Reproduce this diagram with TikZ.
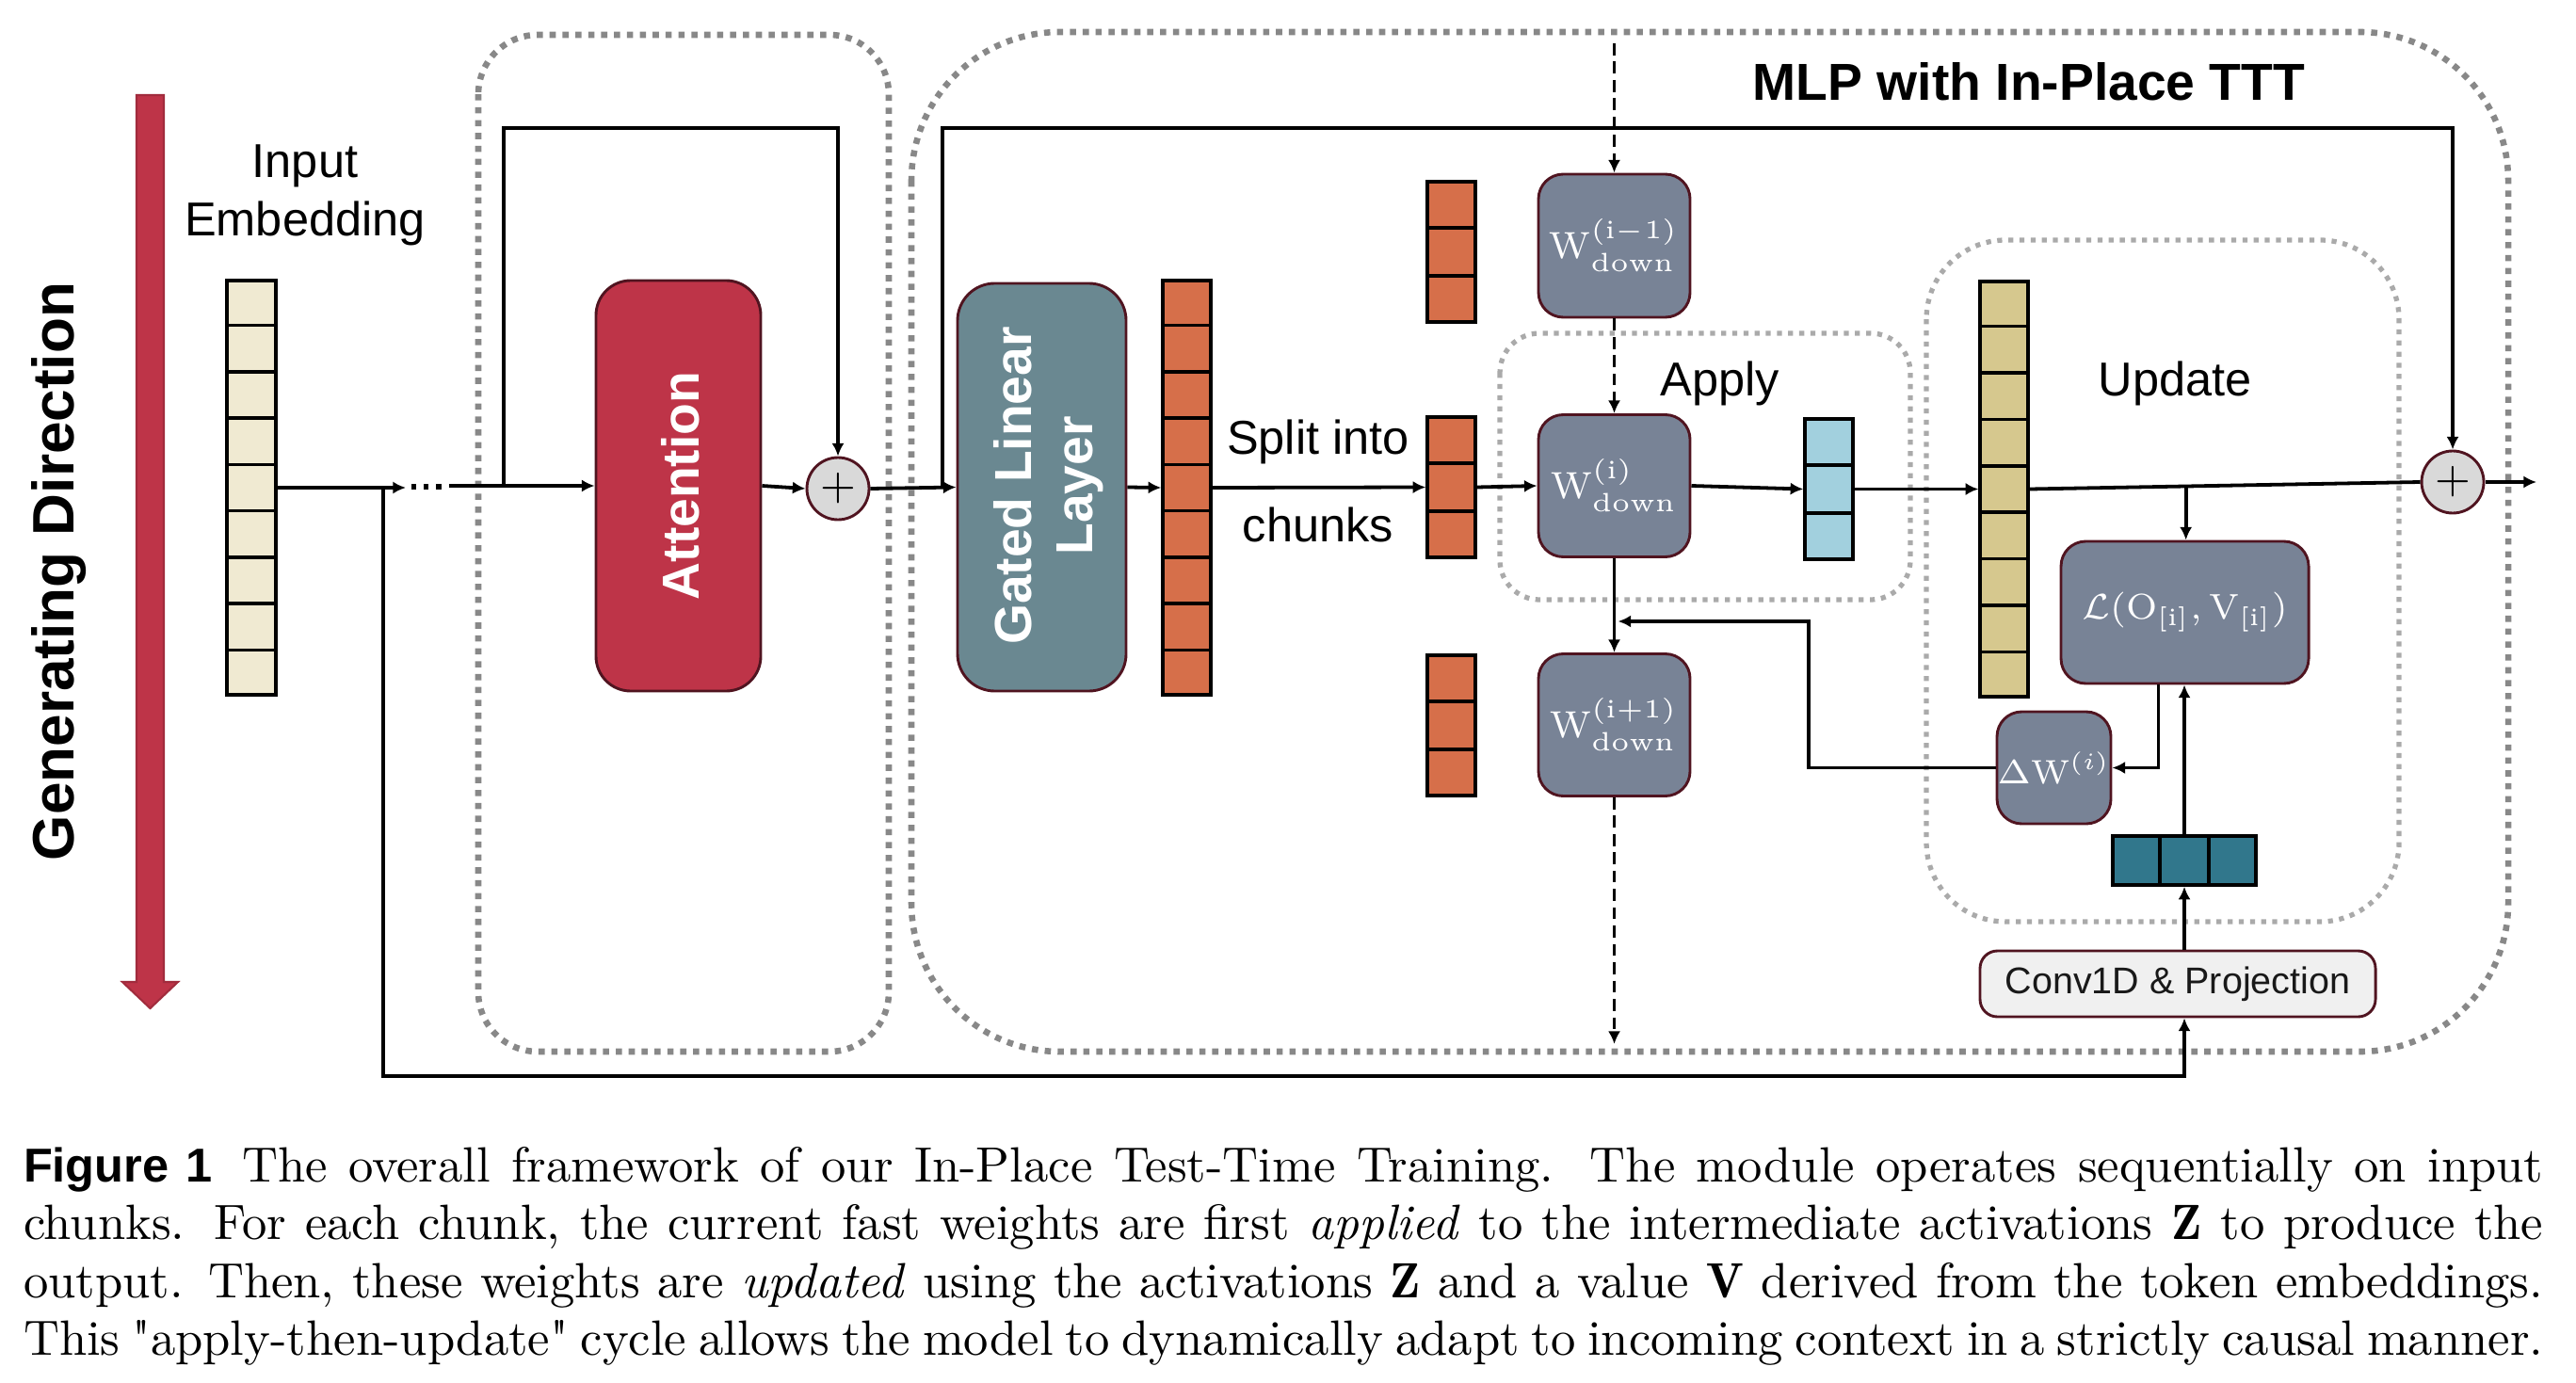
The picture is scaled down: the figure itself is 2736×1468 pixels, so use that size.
\documentclass[tikz,border=0pt]{standalone}
\usepackage{fix-cm}
\usepackage{fontspec}
\newfontfamily\arialf{Liberation Sans}
\usetikzlibrary{arrows.meta,calc}
\definecolor{attred}{RGB}{190,52,72}
\definecolor{gatedc}{RGB}{106,136,145}
\definecolor{wboxc}{RGB}{120,131,150}
\definecolor{maroonc}{RGB}{80,20,32}
\definecolor{creamc}{RGB}{240,234,210}
\definecolor{orangec}{RGB}{214,111,74}
\definecolor{bluec}{RGB}{162,208,222}
\definecolor{tanc}{RGB}{214,200,142}
\definecolor{tealc}{RGB}{49,119,140}
\definecolor{plusc}{RGB}{217,217,217}
\definecolor{convc}{RGB}{240,240,240}
\definecolor{dotdark}{RGB}{136,136,136}
\definecolor{dotlight}{RGB}{170,170,170}
\tikzset{
  wh/.style 2 args={minimum width=#1*0.19pt, minimum height=#2*0.19pt},
  col/.style={draw=black, line width=0.65pt, inner sep=0pt},
  cellline/.style={line width=0.65pt, draw=black},
  rbox/.style={draw=maroonc, line width=0.55pt, rounded corners=5pt, inner sep=0pt, text=white, font=\fontsize{7.6}{9}\selectfont},
  plusn/.style={circle, draw=maroonc, fill=plusc, line width=0.55pt, minimum size=66*0.19pt, inner sep=0pt, font=\fontsize{9}{9}\selectfont},
  lbl/.style={font=\arialf\fontsize{9.6}{11.5}\selectfont, inner sep=0pt},
  blbl/.style={font=\arialf\bfseries\fontsize{10.5}{12}\selectfont, inner sep=0pt},
  wlbl/.style={blbl, text=white, rotate=90, anchor=base},
  conn/.style={line width=0.72pt, -{Latex[length=2.6pt,width=2.5pt]}},
  plain/.style={line width=0.72pt},
  dconn/.style={conn, dash pattern=on 2.4pt off 1.3pt},
  outerdot/.style={draw=dotdark, line width=1.25pt, dash pattern=on 1.25pt off 1.35pt},
  innerdot/.style={draw=dotlight, line width=1pt, dash pattern=on 1pt off 1.25pt},
}
\newcommand\hcells[2]{\pgfmathtruncatemacro\nm{#2-1}%
  \foreach \k in {1,...,\nm}{\draw[cellline] ($(#1.north west)!\k/#2!(#1.south west)$) -- ($(#1.north east)!\k/#2!(#1.south east)$);}}
\newcommand\vcells[2]{\pgfmathtruncatemacro\nm{#2-1}%
  \foreach \k in {1,...,\nm}{\draw[cellline] ($(#1.north west)!\k/#2!(#1.north east)$) -- ($(#1.south west)!\k/#2!(#1.south east)$);}}
\begin{document}
\begin{tikzpicture}[x=0.19pt,y=-0.19pt]
\useasboundingbox (0,0) rectangle (2736,1468);

% generating direction arrow
\fill[attred, draw=attred!85!black, line width=0.4pt] (145,101) -- (174,101) -- (174,1043) -- (189,1043) -- (159.5,1071) -- (130,1043) -- (145,1043) -- cycle;
\node[font=\arialf\bfseries\fontsize{11.8}{14}\selectfont, rotate=90, anchor=base, inner sep=0pt] (gen) at (78,607) {Generating Direction};

% dotted containers
\draw[outerdot, rounded corners=12pt] (508,37) rectangle (944,1117);
\draw[outerdot, rounded corners=30pt] (968,34) rectangle (2664,1117);
\draw[innerdot, rounded corners=8pt] (1593,354) rectangle (2029,637);
\draw[innerdot, rounded corners=16pt] (2046,255) rectangle (2548,979);

% labels
\node[lbl, anchor=base] (inp1) at (324,189) {Input};
\node[lbl, anchor=base] (inp2) at (324,251) {Embedding};
\node[lbl, anchor=base] (split1) at (1400,483) {Split into};
\node[lbl, anchor=base] (split2) at (1400,575) {chunks};
\node[lbl, anchor=base] (applyT) at (1827,421) {Apply};
\node[lbl, anchor=base] (updT) at (2310,421) {Update};
\node[blbl, anchor=base] (mlpT) at (2155,107) {MLP with In-Place TTT};

% input embedding
\node[col, fill=creamc, wh={52}{440}] (emb) at (267,518) {};
\hcells{emb}{9}

% attention
\node[rbox, fill=attred, wh={175}{436}, rounded corners=7pt] (attn) at (720.5,516) {};
\node[wlbl] (attnT) at (742,516) {Attention};
\node[plusn] (p1) at (890,519) {$+$};

% gated linear layer
\node[rbox, fill=gatedc, wh={179}{433}, rounded corners=7.5pt] (gated) at (1106.5,517.5) {};
\node[wlbl] (gT1) at (1095,516) {Gated Linear};
\node[wlbl] (gT2) at (1160,516) {Layer};

% columns
\node[col, fill=orangec, wh={51}{440}] (ob) at (1260.5,518) {};
\hcells{ob}{9}
\node[col, fill=orangec, wh={51}{149}] (c1) at (1541.5,267.5) {};
\hcells{c1}{3}
\node[col, fill=orangec, wh={51}{149}] (c2) at (1541.5,517.5) {};
\hcells{c2}{3}
\node[col, fill=orangec, wh={51}{149}] (c3) at (1541.5,770.5) {};
\hcells{c3}{3}

% W boxes
\node[rbox, fill=wboxc, wh={161}{152}] (w1) at (1714.5,261) {$\mathrm{W}^{(\mathrm{i}-1)}_{\mathrm{down}}$};
\node[rbox, fill=wboxc, wh={161}{151}] (w2) at (1714.5,516) {$\mathrm{W}^{(\mathrm{i})}_{\mathrm{down}}$};
\node[rbox, fill=wboxc, wh={161}{151}] (w3) at (1714.5,770) {$\mathrm{W}^{(\mathrm{i}+1)}_{\mathrm{down}}$};

\node[col, fill=bluec, wh={51}{149}] (bl) at (1942.5,519.5) {};
\hcells{bl}{3}
\node[col, fill=tanc, wh={51}{441}] (tn) at (2128.5,519.5) {};
\hcells{tn}{9}

\node[plusn] (p2) at (2605,512) {$+$};
\node[rbox, fill=wboxc, wh={263}{151}, font=\fontsize{7.2}{9}\selectfont] (ls) at (2320.5,650.5) {$\mathcal{L}(\mathrm{O}_{[\mathrm{i}]},\mathrm{V}_{[\mathrm{i}]})$};
\node[rbox, fill=wboxc, wh={121}{119}, font=\fontsize{6.8}{8}\selectfont] (dw) at (2181.5,815.5) {$\Delta\mathrm{W}^{(i)}$};
\node[col, fill=tealc, wh={152}{52}] (tl) at (2320,914) {};
\vcells{tl}{3}
\node[rbox, fill=convc, wh={420}{70}, rounded corners=3.5pt, text=black!90, font=\arialf\fontsize{7.5}{9}\selectfont] (cv) at (2313,1045) {Conv1D \& Projection};

% coordinates
\coordinate (dA) at (431,518);
\coordinate (dB) at (477,516);
\coordinate (s1) at (407,518);
\coordinate (bl0) at (407,1143);
\coordinate (r1) at (535,516);
\coordinate (r1t) at (535,136);
\coordinate (r2) at (1001,518);
\coordinate (r2t) at (1001,136);
\coordinate (dtop) at (1714.5,46);
\coordinate (dbot) at (1714.5,1109);
\coordinate (fb) at (1921,660);
\coordinate (outE) at (2694,512);
\coordinate (dot1) at (437,517);
\coordinate (dot2) at (470,517);

% connectors
\draw[conn] (emb.east) -- (dA);
\draw[line width=1pt, dash pattern=on 1pt off 1.5pt] (dot1) -- (dot2);
\draw[conn] (dB) -- (attn.west);
\draw[conn] (s1) -- (bl0) -| (tl.south |- cv.south);
\draw[conn] (r1) -- (r1t) -| (p1.north);
\draw[conn] (attn.east) -- (p1.west);
\draw[conn] (p1.east) -- (gated.west);
\draw[conn] (r2) -- (r2t) -| (p2.north);
\draw[conn] (gated.east) -- (ob.west);
\draw[conn] (ob.east) -- (c2.west);
\draw[conn] (c2.east) -- (w2.west);
\draw[conn] (w2.east) -- (bl.west);
\draw[conn] (bl.east) -- (tn.west);
\draw[plain] (tn.east) -- (p2.west);
\draw[conn] (p2.east) -- (outE);
\coordinate (lb) at ($(tn.east)!0.4!(p2.west)$);
\draw[conn] (lb) -- (lb |- ls.north);
\draw[conn] ($(ls.south)+(-28,0)$) |- (dw.east);
\draw[conn] (tl.north) -- (tl.north |- ls.south);
\draw[conn] (tl.south |- cv.north) -- (tl.south);
\draw[conn] (dw.west) -| (fb) -- ($(fb -| w2.south)+(4,0)$);
\draw[dconn] (dtop) -- (w1.north);
\draw[dconn] (w1.south) -- (w2.north);
\draw[conn] (w2.south) -- (w3.north);
\draw[dconn] (w3.south) -- (dbot);

% caption
\node[anchor=north west, inner sep=0pt, text width=508.5pt, align=justify, font=\fontsize{10}{11.7}\selectfont] (cap) at (24,1217) {\parfillskip=0pt {\arialf\bfseries\fontsize{9.6}{11.7}\selectfont Figure 1}\hspace{0.6em}The overall framework of our In-Place Test-Time Training.  The module operates sequentially on input\linebreak chunks. For each chunk, the current fast weights are first \emph{applied} to the intermediate activations $\mathbf{Z}$ to produce the\linebreak output. Then, these weights are \emph{updated} using the activations $\mathbf{Z}$ and a value $\mathbf{V}$ derived from the token embeddings.\linebreak This \textquotedbl apply-then-update\textquotedbl{} cycle allows the model to dynamically adapt to incoming context in a strictly causal manner.};
\end{tikzpicture}
\end{document}
